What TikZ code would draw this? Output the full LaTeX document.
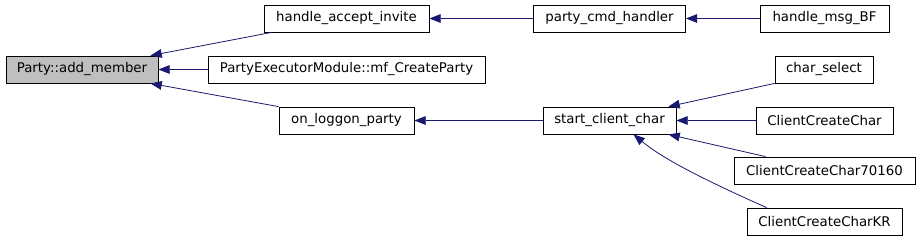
\documentclass[tikz,border=0pt]{standalone}
\usepackage{fontspec}
\setmainfont{DejaVu Sans}
\usepackage{tikz}
\usetikzlibrary{arrows.meta}
\definecolor{my_navy}{HTML}{191970}
\definecolor{my_gray}{HTML}{BFBFBF}

\begin{document}
\begin{tikzpicture}[
    x=0.75pt, y=-0.75pt,
    fnbox/.style={draw=black, fill=white, minimum height=20.25pt, inner sep=0pt,
                  line width=0.6pt, font=\fontsize{10}{12}\selectfont},
    callarrow/.style={my_navy, line width=0.6pt, -{Triangle[length=8.5pt, width=6.5pt]}}
]

% Page frame (x, y in pixels of the 920 x 240 picture, y pointing down)
\useasboundingbox (0,0) rectangle (920,240);
\fill[white] (0,0) rectangle (920,240);

% Function boxes: column 0 (the documented function)
\node[fnbox, fill=my_gray, minimum width=114pt] (add) at (82,69.5) {Party::add\_member};

% Column 1: direct callers
\node[fnbox, minimum width=123.75pt] (hai) at (346.5,18.5)  {handle\_accept\_invite};
\node[fnbox, minimum width=207.75pt] (pem) at (346.5,69.5)  {PartyExecutorModule::mf\_CreateParty};
\node[fnbox, minimum width=101.25pt] (olp) at (346.5,120.5) {on\_loggon\_party};

% Column 2
\node[fnbox, minimum width=114pt]    (pch) at (609.5,18.5)  {party\_cmd\_handler};
\node[fnbox, minimum width=99.75pt]  (scc) at (609.5,120.5) {start\_client\_char};

% Column 3
\node[fnbox, minimum width=96.75pt]  (hmb) at (824.5,18.5)  {handle\_msg\_BF};
\node[fnbox, minimum width=73.5pt]   (cs)  at (824,69.5)    {char\_select};
\node[fnbox, minimum width=102.75pt] (ccc) at (824.5,120.5) {ClientCreateChar};
\node[fnbox, minimum width=135.75pt] (cc7) at (824.5,170.5) {ClientCreateChar70160};
\node[fnbox, minimum width=116.25pt] (ckr) at (824.5,221.5) {ClientCreateCharKR};

% Call edges, arrow tip at the called function
\draw[callarrow] ([xshift=6pt]hai.south west) -- ([xshift=-6pt]add.north east);
\draw[callarrow] (pem.west) -- (add.east);
\draw[callarrow] (olp.north west) -- ([xshift=-6pt]add.south east);
\draw[callarrow] (pch.west) -- (hai.east);
\draw[callarrow] (hmb.west) -- (pch.east);
\draw[callarrow] (scc.west) -- (olp.east);
\draw[callarrow] (cs.south west) -- ([xshift=-6pt]scc.north east);
\draw[callarrow] (ccc.west) -- (scc.east);
\draw[callarrow] ([xshift=24pt]cc7.north west) -- ([xshift=-6pt]scc.south east);
\draw[callarrow] ([xshift=15pt]ckr.north west)
    .. controls (700,178) and (662,158) .. ([xshift=18pt]scc.south);

\end{tikzpicture}
\end{document}
